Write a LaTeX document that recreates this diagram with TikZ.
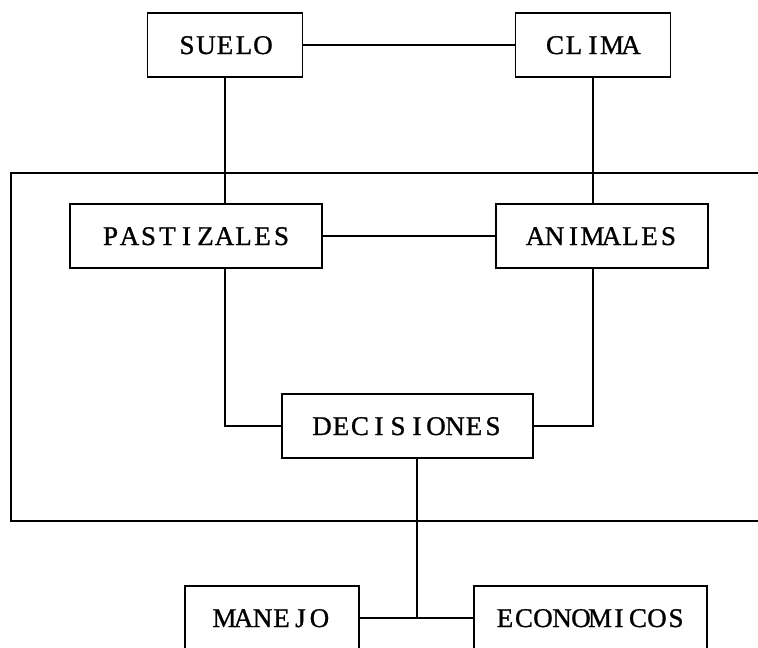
\documentclass[tikz,border=0pt]{standalone}
\usepackage{fontspec}
\setmainfont{Liberation Serif}
\newfontfamily\twfont[FakeBold=1]{Liberation Serif}
\makeatletter
\newcommand\twtext[1]{\@tfor\tw@c:=#1\do{\makebox[19pt]{\tw@c}}}
\makeatother
\begin{document}
\begin{tikzpicture}[x=1pt,y=-1pt,
  line width=1.5pt,
  boxnode/.style={draw, line width=1.5pt, minimum height=64pt, inner sep=0pt,
    font=\twfont\fontsize{27}{30}\selectfont, text height=18pt, text depth=0pt},
  link/.style={line width=1.5pt}]
\useasboundingbox (0,0) rectangle (758,648);
\clip (0,0) rectangle (758,648);
\fill[white] (0,0) rectangle (758,648);
% outer frame (open at the right edge)
\draw (770,173) -- (11,173) -- (11,521) -- (770,521);
% nodes
\node[boxnode, minimum width=155pt] (suelo) at (225,45) {\twtext{SUELO}};
\node[boxnode, minimum width=155pt] (clima) at (593,45) {\twtext{CLIMA}};
\node[boxnode, minimum width=252pt] (pastizales) at (196,236) {\twtext{PASTIZALES}};
\node[boxnode, minimum width=212pt] (animales) at (602,236) {\twtext{ANIMALES}};
\node[boxnode, minimum width=251pt] (decisiones) at (407.5,426) {\twtext{DECISIONES}};
\node[boxnode, minimum width=174pt] (manejo) at (272,618) {\twtext{MANEJO}};
\node[boxnode, minimum width=233pt] (economicos) at (590.5,618) {\twtext{ECONOMICOS}};
\coordinate (junction) at (417,618);
% connectors
\draw[link] (suelo.east) -- (clima.west);
\draw[link] (suelo.south) -- (suelo.south |- pastizales.north);
\draw[link] (clima.south) -- (clima.south |- animales.north);
\draw[link] (pastizales.east) -- (animales.west);
\draw[link] (pastizales.south -| suelo.south) |- (decisiones.west);
\draw[link] (animales.south -| clima.south) |- (decisiones.east);
\draw[link] (decisiones.south -| junction) -- (junction);
\draw[link] (manejo.east) -- (economicos.west);
\end{tikzpicture}
\end{document}
